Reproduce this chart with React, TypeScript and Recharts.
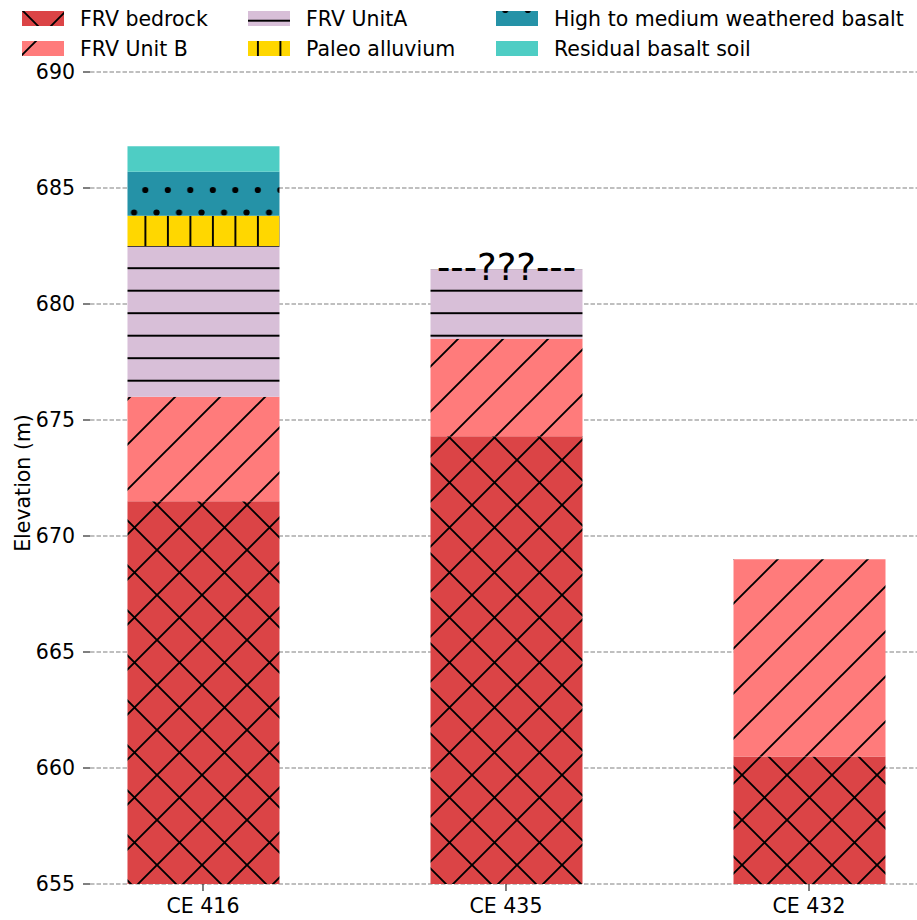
import React from 'react';
import { BarChart, Bar, XAxis, YAxis, CartesianGrid, LabelList, Customized } from 'recharts';

// Borehole stratigraphy: top elevation (m) of each unit, null where the unit is absent.
const boreholes = ['CE 416', 'CE 435', 'CE 432'];
const boreholePositions = [0, 1, 2];
const baseElevation = 655;
const bedrockTop = [671.5, 674.3, 660.5];
const unitBTop = [676.0, 678.5, 669.0];
const unitATop = [682.5, 681.5, null];
const paleoTop = [683.8, null, null];
const weatheredTop = [685.7, null, null];
const residualTop = [686.8, null, null];
const topLabels = [null, '---???---', null];
const yTicks = [655, 660, 665, 670, 675, 680, 685, 690];

const FONT = 'DejaVu Sans, Verdana, sans-serif';
const FONT_SIZE = 20.5;

type Layer = { key: string; name: string; tops: (number | null)[]; fill: string };

const layers: Layer[] = [
  { key: 'bedrock', name: 'FRV bedrock', tops: bedrockTop, fill: 'url(#hatch-bedrock)' },
  { key: 'unitB', name: 'FRV Unit B', tops: unitBTop, fill: 'url(#hatch-unitb)' },
  { key: 'unitA', name: 'FRV UnitA', tops: unitATop, fill: 'url(#hatch-unita)' },
  { key: 'paleo', name: 'Paleo alluvium', tops: paleoTop, fill: 'url(#hatch-paleo)' },
  { key: 'weathered', name: 'High to medium weathered basalt', tops: weatheredTop, fill: 'url(#hatch-weathered)' },
  { key: 'residual', name: 'Residual basalt soil', tops: residualTop, fill: '#4ECDC4' },
];

// Convert top elevations into stacked thicknesses above the base elevation.
const data = boreholes.map((name, i) => {
  const row: Record<string, number | string | null> = {
    name,
    pos: boreholePositions[i],
    base: baseElevation,
    label: topLabels[i],
  };
  let current = baseElevation;
  layers.forEach((layer) => {
    const top = layer.tops[i];
    if (top == null) {
      row[layer.key] = 0;
    } else {
      row[layer.key] = +(top - current).toFixed(3);
      current = top;
    }
  });
  return row;
});

const HATCH = { stroke: '#000', strokeWidth: 1.9, fill: 'none' };

const Patterns = () => (
  <defs>
    <pattern id="hatch-bedrock" patternUnits="userSpaceOnUse" x={22} y={10} width={45} height={45}>
      <rect width={45} height={45} fill="#DB4446" />
      <path
        d="M0,0 L45,45 M0,45 L45,0 M-5,5 L5,-5 M40,50 L50,40 M-5,40 L5,50 M40,-5 L50,5"
        {...HATCH}
      />
    </pattern>
    <pattern id="hatch-unitb" patternUnits="userSpaceOnUse" x={32} y={0} width={45} height={45}>
      <rect width={45} height={45} fill="#FF7B7B" />
      <path d="M0,45 L45,0 M-5,5 L5,-5 M40,50 L50,40" {...HATCH} />
    </pattern>
    <pattern id="hatch-unita" patternUnits="userSpaceOnUse" x={0} y={20.7} width={45} height={22.5}>
      <rect width={45} height={22.5} fill="#D8BFD8" />
      <path d="M0,0 H45 M0,22.5 H45" {...HATCH} />
    </pattern>
    <pattern id="hatch-paleo" patternUnits="userSpaceOnUse" x={10.4} y={0} width={22.5} height={45}>
      <rect width={22.5} height={45} fill="#FFD700" />
      <path d="M0,0 V45 M22.5,0 V45" {...HATCH} />
    </pattern>
    <pattern id="hatch-weathered" patternUnits="userSpaceOnUse" x={10.3} y={10} width={22.5} height={45}>
      <rect width={22.5} height={45} fill="#2592A7" />
      <circle cx={0} cy={0} r={3.1} fill="#000" />
      <circle cx={22.5} cy={0} r={3.1} fill="#000" />
      <circle cx={0} cy={45} r={3.1} fill="#000" />
      <circle cx={22.5} cy={45} r={3.1} fill="#000" />
      <circle cx={11.25} cy={22.5} r={3.1} fill="#000" />
    </pattern>
  </defs>
);

// Legend laid out column-first in three columns, plus the y-axis title.
const legendColumns = [22, 248, 496];
const legendRows = [11, 41];

const Annotations = () => (
  <g fontFamily={FONT}>
    {layers.map((layer, i) => {
      const col = Math.floor(i / 2);
      const row = i % 2;
      const x = legendColumns[col];
      const y = legendRows[row];
      return (
        <g key={layer.key}>
          <rect x={x} y={y} width={42} height={15} fill={layer.fill} />
          <text x={x + 58} y={y + 14.5} fontSize={FONT_SIZE} fill="#000">
            {layer.name}
          </text>
        </g>
      );
    })}
    <text
      x={30}
      y={483}
      fontSize={FONT_SIZE}
      fill="#000"
      textAnchor="middle"
      transform="rotate(-90, 30, 483)"
    >
      Elevation (m)
    </text>
  </g>
);

const TopLabel = (props: any) => {
  const { x, y, width, value } = props;
  if (!value) return null;
  return (
    <text
      x={x + width / 2}
      y={y + 10.3}
      textAnchor="middle"
      fontSize={37}
      fontFamily={FONT}
      fill="#000"
    >
      {value}
    </text>
  );
};

export default function App() {
  return (
    <div style={{ position: 'absolute', left: 0, top: 0, width: 917, height: 920 }}>
      <BarChart
        width={917}
        height={920}
        data={data}
        margin={{ top: 72, right: 0, bottom: 0, left: 0 }}
        barSize={152}
        style={{ fontFamily: FONT }}
      >
        <Patterns />
        <CartesianGrid
          vertical={false}
          stroke="#808080"
          strokeDasharray="4.5 2"
          strokeWidth={1.1}
        />
        <XAxis
          type="number"
          dataKey="pos"
          domain={[-0.3729, 2.3564]}
          ticks={boreholePositions}
          tickFormatter={(v: number) => boreholes[v] ?? ''}
          axisLine={false}
          tickLine={{ stroke: '#000' }}
          tickSize={7}
          tickMargin={7.5}
          height={36}
          interval={0}
          allowDataOverflow
          tick={{ fontSize: FONT_SIZE, fill: '#000', fontFamily: FONT }}
        />
        <YAxis
          type="number"
          domain={[655, 690]}
          ticks={yTicks}
          allowDataOverflow
          axisLine={false}
          tickLine={{ stroke: '#000' }}
          tickSize={7}
          tickMargin={8}
          width={90}
          interval={0}
          tick={{ fontSize: FONT_SIZE, fill: '#000', fontFamily: FONT }}
        />
        <Bar dataKey="base" stackId="log" fill="none" isAnimationActive={false} />
        {layers.map((layer) => (
          <Bar
            key={layer.key}
            dataKey={layer.key}
            name={layer.name}
            stackId="log"
            fill={layer.fill}
            isAnimationActive={false}
          >
            {layer.key === 'unitA' && (
              <LabelList dataKey="label" content={TopLabel} />
            )}
          </Bar>
        ))}
        <Customized component={Annotations} />
      </BarChart>
    </div>
  );
}
